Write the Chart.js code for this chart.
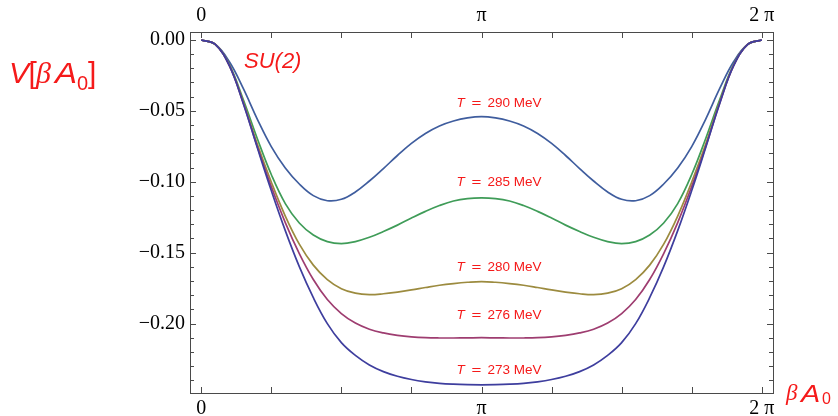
<!DOCTYPE html>
<html><head><meta charset="utf-8">
<script src="https://cdn.jsdelivr.net/npm/chart.js@4/dist/chart.umd.min.js"></script>
<style>html,body{margin:0;padding:0;background:#fff}canvas{display:block}</style>
</head><body>
<canvas id="c" width="838" height="416"></canvas>
<script>
// x sample positions, in units of pi
const xPi = [0,0.05,0.1,0.15,0.2,0.25,0.3,0.35,0.4,0.45,0.5,0.55,0.6,0.65,0.7,0.75,0.8,0.85,0.9,0.95,1,
             1.05,1.1,1.15,1.2,1.25,1.3,1.35,1.4,1.45,1.5,1.55,1.6,1.65,1.7,1.75,1.8,1.85,1.9,1.95,2];
const v273 = [0,-0.0032,-0.0180,-0.0448,-0.0759,-0.1062,-0.1345,-0.1599,-0.1818,-0.2001,-0.2135,-0.2225,-0.2292,-0.2339,-0.2372,-0.2395,-0.2411,-0.2422,-0.2428,-0.2431,-0.2432,
              -0.2431,-0.2428,-0.2422,-0.2411,-0.2395,-0.2372,-0.2339,-0.2292,-0.2225,-0.2135,-0.2001,-0.1818,-0.1599,-0.1345,-0.1062,-0.0759,-0.0448,-0.0180,-0.0032,0];
const v276 = [0,-0.0032,-0.0180,-0.0445,-0.0752,-0.1034,-0.1288,-0.1507,-0.1690,-0.1831,-0.1930,-0.1997,-0.2040,-0.2066,-0.2083,-0.2094,-0.2100,-0.2102,-0.2102,-0.2101,-0.2100,
              -0.2101,-0.2102,-0.2102,-0.2100,-0.2094,-0.2083,-0.2066,-0.2040,-0.1997,-0.1930,-0.1831,-0.1690,-0.1507,-0.1288,-0.1034,-0.0752,-0.0445,-0.0180,-0.0032,0];
const v280 = [0,-0.0032,-0.0176,-0.0438,-0.0734,-0.1002,-0.1242,-0.1440,-0.1588,-0.1690,-0.1754,-0.1786,-0.1796,-0.1790,-0.1778,-0.1763,-0.1746,-0.1730,-0.1718,-0.1709,-0.1704,
              -0.1709,-0.1718,-0.1730,-0.1746,-0.1763,-0.1778,-0.1790,-0.1796,-0.1786,-0.1754,-0.1690,-0.1588,-0.1440,-0.1242,-0.1002,-0.0734,-0.0438,-0.0176,-0.0032,0];
const v285 = [0,-0.0032,-0.0173,-0.0420,-0.0695,-0.0949,-0.1154,-0.1291,-0.1376,-0.1422,-0.1436,-0.1422,-0.1392,-0.1351,-0.1306,-0.1256,-0.1209,-0.1168,-0.1136,-0.1119,-0.1114,
              -0.1119,-0.1136,-0.1168,-0.1209,-0.1256,-0.1306,-0.1351,-0.1392,-0.1422,-0.1436,-0.1422,-0.1376,-0.1291,-0.1154,-0.0949,-0.0695,-0.0420,-0.0173,-0.0032,0];
const v290 = [0,-0.0030,-0.0152,-0.0342,-0.0558,-0.0752,-0.0903,-0.1016,-0.1098,-0.1134,-0.1124,-0.1072,-0.0995,-0.0907,-0.0815,-0.0730,-0.0660,-0.0607,-0.0572,-0.0550,-0.0541,
              -0.0550,-0.0572,-0.0607,-0.0660,-0.0730,-0.0815,-0.0907,-0.0995,-0.1072,-0.1124,-0.1134,-0.1098,-0.1016,-0.0903,-0.0752,-0.0558,-0.0342,-0.0152,-0.0030,0];
const seriesNames = ['273 MeV','276 MeV','280 MeV','285 MeV','290 MeV'];
const seriesValues = [v273, v276, v280, v285, v290];
const seriesColors = ['#3e3e9e','#9e3d70','#9c8b3f','#3f9c58','#3f5d9e'];

const xTickPi = [0,0.25,0.5,0.75,1,1.25,1.5,1.75,2];
const xTickText = ['0','','','','π','','','','2 π'];
const yTicks = [0,-0.01,-0.02,-0.03,-0.04,-0.05,-0.06,-0.07,-0.08,-0.09,-0.10,-0.11,-0.12,-0.13,-0.14,-0.15,-0.16,-0.17,-0.18,-0.19,-0.20,-0.21,-0.22,-0.23,-0.24];
const yTickText = ['0.00','','','','','\u22120.05','','','','','\u22120.10','','','','','\u22120.15','','','','','\u22120.20','','','',''];

const PI = Math.PI;
const X_MIN = -0.02*2*PI, X_MAX = 2*PI + 0.02*2*PI;
const Y_MIN = -0.249, Y_MAX = 0.0056;

// label anchors (data coords: x of "T" left edge, y of baseline)
const labelAnchors = [[2.861,-0.2353],[2.861,-0.1969],[2.861,-0.1628],[2.861,-0.1031],[2.861,-0.0471]];

const AX = '#4a4a4a';
const RED = '#f51a1a';

function xLabel(v){
  for (let i=0;i<xTickPi.length;i++) if (Math.abs(xTickPi[i]*PI - v) < 1e-6) return xTickText[i];
  return '';
}
function yLabel(v){
  for (let i=0;i<yTicks.length;i++) if (Math.abs(yTicks[i]-v) < 1e-7) return yTickText[i];
  return '';
}

const tickFont = {family:'Liberation Serif', size:20};

const xAxisBase = (pos, h) => ({
  type:'linear', position:pos, min:X_MIN, max:X_MAX,
  afterBuildTicks: s => { s.ticks = xTickPi.map(p => ({value:p*PI})); },
  afterFit: s => { s.height = h; },
  ticks:{autoSkip:false, maxRotation:0, minRotation:0, padding:4, font:tickFont, color:'#000', callback:v => xLabel(v)},
  grid:{display:false, drawTicks:false},
  border:{display:true, color:AX, width:1}
});

function wide(ctx, text, x, y, sx){
  ctx.save(); ctx.translate(x, y); ctx.scale(sx, 1); ctx.fillText(text, 0, 0); ctx.restore();
}

const frame = {
  id:'frame',
  afterDraw(chart){
    const {ctx, chartArea:a, scales} = chart;
    ctx.save();
    ctx.strokeStyle = AX; ctx.lineWidth = 1;
    ctx.beginPath();
    xTickPi.forEach(p => {
      const px = Math.round(scales.x.getPixelForValue(p*PI)) + 0.5;
      ctx.moveTo(px, a.bottom); ctx.lineTo(px, a.bottom-6);
      ctx.moveTo(px, a.top); ctx.lineTo(px, a.top+6);
    });
    yTicks.forEach((v,i) => {
      const py = Math.round(scales.y.getPixelForValue(v)) + 0.5;
      const len = yTickText[i] ? 6 : 4;
      ctx.moveTo(a.left, py); ctx.lineTo(a.left+len, py);
      ctx.moveTo(a.right, py); ctx.lineTo(a.right-len, py);
    });
    ctx.stroke();

    // curve labels
    ctx.fillStyle = RED;
    ctx.textBaseline = 'alphabetic';
    seriesNames.forEach((name,i) => {
      const x0 = scales.x.getPixelForValue(labelAnchors[i][0]);
      const y0 = scales.y.getPixelForValue(labelAnchors[i][1]);
      ctx.font = 'italic 13.5px "Liberation Sans"';
      ctx.fillText('T', x0, y0);
      ctx.font = '13.5px "Liberation Sans"';
      wide(ctx, '=', x0+15, y0, 1.25);
      ctx.fillText(name, x0+31, y0);
    });

    // SU(2)
    ctx.font = 'italic 22px "Liberation Sans"';
    ctx.fillText('SU(2)', 244, 67.5);

    // y title V[βA0]
    ctx.font = 'italic 30px "Liberation Sans"';
    ctx.fillText('V', 9, 83);
    ctx.font = '30px "Liberation Sans"';
    ctx.fillText('[', 28.5, 83);
    ctx.font = 'italic 30px "Liberation Serif"';
    ctx.fillText('β', 36, 83);
    ctx.font = 'italic 30px "Liberation Sans"';
    wide(ctx, 'A', 55, 83, 1.1);
    ctx.font = '20px "Liberation Sans"';
    ctx.fillText('0', 77, 90);
    ctx.font = '30px "Liberation Sans"';
    ctx.fillText(']', 88, 83);

    // x title βA0
    ctx.font = 'italic 23px "Liberation Serif"';
    ctx.fillText('β', 786, 400);
    ctx.font = 'italic 23px "Liberation Sans"';
    wide(ctx, 'A', 801, 401.5, 1.25);
    ctx.font = '16px "Liberation Sans"';
    ctx.fillText('0', 822, 404);
    ctx.restore();
  }
};

new Chart(document.getElementById('c'), {
  type:'line',
  data:{
    datasets: seriesValues.map((vals,i) => ({
      label: 'T = ' + seriesNames[i],
      data: xPi.map((p,j) => ({x:p*PI, y:vals[j]})),
      borderColor: seriesColors[i],
      borderWidth: 1.7,
      pointRadius: 0,
      fill: false,
      tension: 0.4
    }))
  },
  options:{
    responsive:false, animation:false, devicePixelRatio:1,
    layout:{padding:0},
    plugins:{legend:{display:false}, tooltip:{enabled:false}},
    scales:{
      x: xAxisBase('bottom', 23),
      x2: xAxisBase('top', 32),
      y: {
        type:'linear', position:'left', min:Y_MIN, max:Y_MAX,
        afterBuildTicks: s => { s.ticks = yTicks.map(v => ({value:v})); },
        afterFit: s => { s.width = 190; },
        ticks:{autoSkip:false, padding:5, font:tickFont, color:'#000', callback:v => yLabel(v)},
        grid:{display:false, drawTicks:false},
        border:{display:true, color:AX, width:1}
      },
      y2: {
        type:'linear', position:'right', min:Y_MIN, max:Y_MAX,
        afterFit: s => { s.width = 65; },
        ticks:{display:false},
        grid:{display:false, drawTicks:false},
        border:{display:true, color:AX, width:1}
      }
    }
  },
  plugins:[frame]
});
</script>
</body></html>
